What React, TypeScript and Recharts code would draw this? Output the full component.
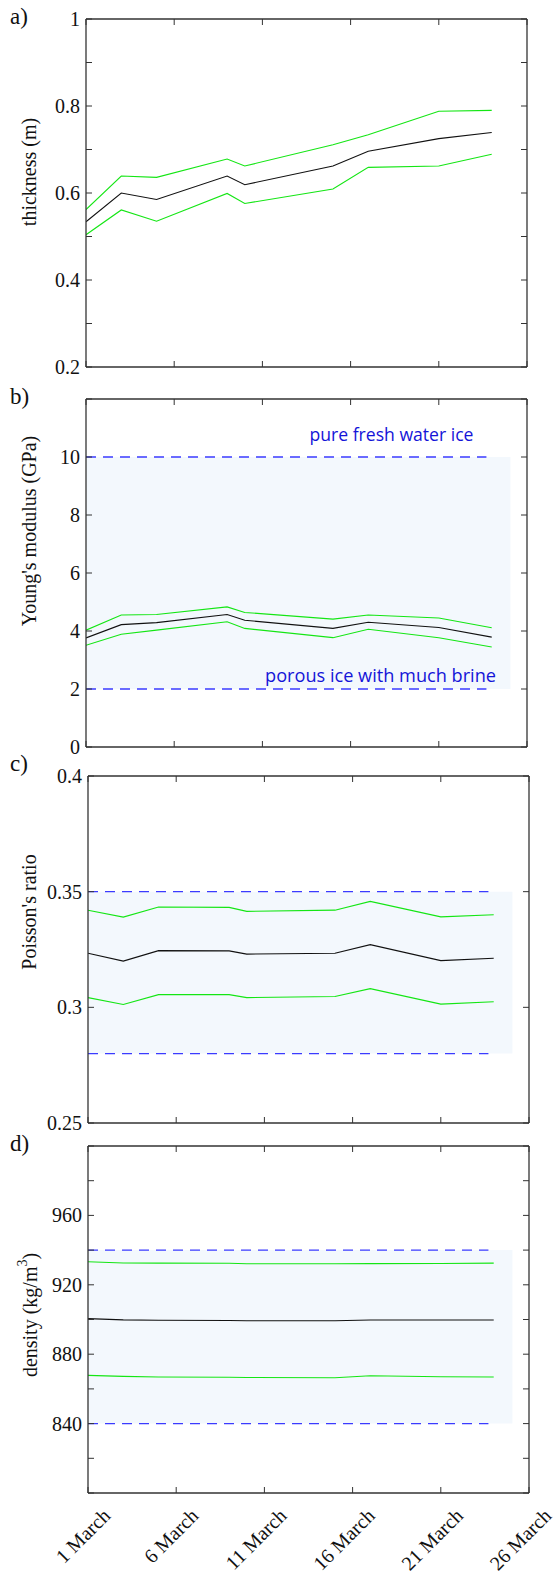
import React from 'react';
import { LineChart, Line, XAxis, YAxis, ReferenceArea, ReferenceLine, ReferenceDot } from 'recharts';

// ---------- shared x data ----------
const days = [1, 3, 5, 9, 10, 15, 17, 21, 24];
const xTicks = [1, 6, 11, 16, 21, 26];
const xTickLabels = ['1 March', '6 March', '11 March', '16 March', '21 March', '26 March'];

// ---------- a) thickness (m) ----------
const thicknessMean = [0.534, 0.6, 0.585, 0.639, 0.619, 0.662, 0.696, 0.725, 0.739];
const thicknessUpper = [0.562, 0.639, 0.636, 0.678, 0.662, 0.711, 0.734, 0.788, 0.79];
const thicknessLower = [0.504, 0.561, 0.535, 0.599, 0.576, 0.609, 0.659, 0.662, 0.689];
const thicknessTicks = [0.2, 0.3, 0.4, 0.5, 0.6, 0.7, 0.8, 0.9, 1];
const thicknessTickLabels = ['0.2', '', '0.4', '', '0.6', '', '0.8', '', '1'];

// ---------- b) Young's modulus (GPa) ----------
const youngMean = [3.76, 4.22, 4.29, 4.57, 4.37, 4.09, 4.3, 4.12, 3.79];
const youngUpper = [4.03, 4.55, 4.57, 4.83, 4.64, 4.41, 4.55, 4.45, 4.11];
const youngLower = [3.51, 3.89, 4.03, 4.32, 4.09, 3.77, 4.06, 3.77, 3.45];
const youngTicks = [0, 2, 4, 6, 8, 10, 12];
const youngTickLabels = ['0', '2', '4', '6', '8', '10', ''];
const youngBand = [2, 10];
const youngNotes = ['pure fresh water ice', 'porous ice with much brine'];
const youngNoteX = [13.67, 11.15];
const youngNoteY = [10.55, 2.25];
const youngNoteLen = [164, 231];

// ---------- c) Poisson's ratio ----------
const poissonMean = [0.3234, 0.32, 0.3245, 0.3244, 0.323, 0.3234, 0.3271, 0.3202, 0.3212];
const poissonUpper = [0.342, 0.339, 0.3434, 0.3432, 0.3415, 0.342, 0.3458, 0.3391, 0.34];
const poissonLower = [0.3042, 0.3012, 0.3055, 0.3055, 0.3042, 0.3047, 0.3081, 0.3014, 0.3024];
const poissonTicks = [0.25, 0.3, 0.35, 0.4];
const poissonTickLabels = ['0.25', '0.3', '0.35', '0.4'];
const poissonBand = [0.28, 0.35];

// ---------- d) density (kg/m3) ----------
const densityMean = [900.5, 899.8, 899.6, 899.4, 899.3, 899.3, 899.7, 899.7, 899.7];
const densityUpper = [933.3, 932.6, 932.5, 932.4, 932.1, 932.1, 932.2, 932.3, 932.5];
const densityLower = [867.8, 867.2, 866.9, 866.7, 866.6, 866.4, 867.6, 867.0, 866.9];
const densityTicks = [800, 820, 840, 860, 880, 900, 920, 940, 960, 980, 1000];
const densityTickLabels = ['', '', '840', '', '880', '', '920', '', '960', '', ''];
const densityBand = [840, 940];

// band / dashed line horizontal extents (days)
const bandEndDay = 25.06;
const dashEndDay = 23.7;

const build = (mean: number[], upper: number[], lower: number[]) =>
  days.map((d, i) => ({ day: d, mean: mean[i], upper: upper[i], lower: lower[i] }));

const FONT = "'Liberation Serif', 'Times New Roman', Times, serif";
const SANS = "'Open Sans', 'Noto Sans', sans-serif";
const FRAME = '#333333';
const GREEN = '#14e614';
const BLACK = '#111111';
const DASH = '#3b3bff';
const FILL = '#f3f8fd';
const NOTE = '#1414d8';

const TICK = 6;

const makeLeftTick = (labels: string[]) => (props: any) => {
  const { x, y, index } = props;
  return (
    <g>
      <line x1={x} x2={x + TICK} y1={y} y2={y} stroke={FRAME} strokeWidth={1} />
      {labels[index] ? (
        <text
          x={x - 6}
          y={y}
          textAnchor="end"
          dominantBaseline="central"
          style={{ fontFamily: FONT, fontSize: 20 }}
          fill="#111"
        >
          {labels[index]}
        </text>
      ) : null}
    </g>
  );
};

const rightTick = (props: any) => {
  const { x, y } = props;
  return <line x1={x - TICK} x2={x} y1={y} y2={y} stroke={FRAME} strokeWidth={1} />;
};

const topTick = (props: any) => {
  const { x, y } = props;
  return <line x1={x} x2={x} y1={y} y2={y + TICK} stroke={FRAME} strokeWidth={1} />;
};

const makeBottomTick = (showLabels: boolean) => (props: any) => {
  const { x, y, index } = props;
  const px = x + 23.5;
  const py = y + 24;
  return (
    <g>
      <line x1={x} x2={x} y1={y - TICK} y2={y} stroke={FRAME} strokeWidth={1} />
      {showLabels ? (
        <text
          x={px}
          y={py}
          textAnchor="end"
          transform={`rotate(-45 ${px} ${py})`}
          style={{ fontFamily: FONT, fontSize: 20 }}
          fill="#111"
        >
          {xTickLabels[index]}
        </text>
      ) : null}
    </g>
  );
};

type PanelProps = {
  top: number;
  height: number;
  plotTop: number;
  plotBottom: number;
  plotLeft: number;
  plotRight: number;
  data: any[];
  yTicks: number[];
  yTickLabels: string[];
  showXLabels?: boolean;
  extras?: React.ReactNode[];
};

const W = 554;
const XH = 1; // x-axis band height

function Panel(p: PanelProps) {
  const domain: [number, number] = [p.yTicks[0], p.yTicks[p.yTicks.length - 1]];
  const axisLine = { stroke: FRAME, strokeWidth: 1.3 };
  return (
    <div style={{ position: 'absolute', left: 0, top: p.top, width: W, height: p.height }}>
      <LineChart
        width={W}
        height={p.height}
        data={p.data}
        margin={{
          top: p.plotTop - p.top - XH,
          bottom: p.top + p.height - p.plotBottom - XH,
          left: 0,
          right: 0,
        }}
      >
        <XAxis
          dataKey="day"
          type="number"
          domain={[1, 26]}
          ticks={xTicks}
          interval={0}
          allowDataOverflow
          height={XH}
          tickSize={0}
          tickMargin={0}
          tickLine={false}
          axisLine={axisLine}
          tick={makeBottomTick(!!p.showXLabels)}
        />
        <XAxis
          xAxisId="top"
          orientation="top"
          dataKey="day"
          type="number"
          domain={[1, 26]}
          ticks={xTicks}
          interval={0}
          allowDataOverflow
          height={XH}
          tickSize={0}
          tickMargin={0}
          tickLine={false}
          axisLine={axisLine}
          tick={topTick}
        />
        <YAxis
          type="number"
          domain={domain}
          ticks={p.yTicks}
          interval={0}
          allowDataOverflow
          width={p.plotLeft}
          tickSize={0}
          tickMargin={0}
          tickLine={false}
          axisLine={axisLine}
          tick={makeLeftTick(p.yTickLabels)}
        />
        <YAxis
          yAxisId="right"
          orientation="right"
          type="number"
          domain={domain}
          ticks={p.yTicks}
          interval={0}
          allowDataOverflow
          width={W - p.plotRight}
          tickSize={0}
          tickMargin={0}
          tickLine={false}
          axisLine={axisLine}
          tick={rightTick}
        />
        {p.extras}
        <Line type="linear" dataKey="upper" stroke={GREEN} strokeWidth={1.1} dot={false} isAnimationActive={false} />
        <Line type="linear" dataKey="lower" stroke={GREEN} strokeWidth={1.1} dot={false} isAnimationActive={false} />
        <Line type="linear" dataKey="mean" stroke={BLACK} strokeWidth={1.1} dot={false} isAnimationActive={false} />
      </LineChart>
    </div>
  );
}

const bandExtras = (band: number[], keyPrefix: string) => [
  <ReferenceArea
    key={keyPrefix + 'area'}
    x1={1}
    x2={bandEndDay}
    y1={band[0]}
    y2={band[1]}
    fill={FILL}
    fillOpacity={1}
    stroke="none"
    ifOverflow="visible"
  />,
  <ReferenceLine
    key={keyPrefix + 'hi'}
    segment={[{ x: 1, y: band[1] }, { x: dashEndDay, y: band[1] }]}
    stroke={DASH}
    strokeWidth={1.4}
    strokeDasharray="10 7"
    ifOverflow="visible"
  />,
  <ReferenceLine
    key={keyPrefix + 'lo'}
    segment={[{ x: 1, y: band[0] }, { x: dashEndDay, y: band[0] }]}
    stroke={DASH}
    strokeWidth={1.4}
    strokeDasharray="10 7"
    ifOverflow="visible"
  />,
];

const noteExtras = youngNotes.map((t, i) => (
  <ReferenceDot
    key={'note' + i}
    x={youngNoteX[i]}
    y={youngNoteY[i]}
    r={0}
    ifOverflow="visible"
    shape={(sp: any) => (
      <text
        x={sp.cx}
        y={sp.cy}
        textAnchor="start"
        style={{ fontFamily: SANS, fontSize: 19 }}
        fill={NOTE}
        textLength={youngNoteLen[i]}
        lengthAdjust="spacingAndGlyphs"
      >
        {t}
      </text>
    )}
  />
));

export default function App() {
  const thicknessData = build(thicknessMean, thicknessUpper, thicknessLower);
  const youngData = build(youngMean, youngUpper, youngLower);
  const poissonData = build(poissonMean, poissonUpper, poissonLower);
  const densityData = build(densityMean, densityUpper, densityLower);

  const titleStyle = { fontFamily: FONT, fontSize: 20, fill: '#111' } as const;

  return (
    <div style={{ position: 'absolute', left: 0, top: 0, width: W, height: 1573, background: '#fff', overflow: 'hidden' }}>
      <Panel
        top={0}
        height={383}
        plotTop={19}
        plotBottom={367}
        plotLeft={86}
        plotRight={527}
        data={thicknessData}
        yTicks={thicknessTicks}
        yTickLabels={thicknessTickLabels}
      />
      <Panel
        top={383}
        height={377}
        plotTop={399}
        plotBottom={747}
        plotLeft={86}
        plotRight={527}
        data={youngData}
        yTicks={youngTicks}
        yTickLabels={youngTickLabels}
        extras={[...bandExtras(youngBand, 'b'), ...noteExtras]}
      />
      <Panel
        top={760}
        height={375}
        plotTop={776}
        plotBottom={1123}
        plotLeft={88}
        plotRight={529}
        data={poissonData}
        yTicks={poissonTicks}
        yTickLabels={poissonTickLabels}
        extras={bandExtras(poissonBand, 'c')}
      />
      <Panel
        top={1135}
        height={438}
        plotTop={1146}
        plotBottom={1493}
        plotLeft={88}
        plotRight={529}
        data={densityData}
        yTicks={densityTicks}
        yTickLabels={densityTickLabels}
        showXLabels
        extras={bandExtras(densityBand, 'd')}
      />
      <svg width={W} height={1573} style={{ position: 'absolute', left: 0, top: 0, pointerEvents: 'none' }}>
        <text x={10} y={24} style={{ fontFamily: FONT, fontSize: 23 }} fill="#111">a)</text>
        <text x={10} y={404} style={{ fontFamily: FONT, fontSize: 23 }} fill="#111">b)</text>
        <text x={10} y={771} style={{ fontFamily: FONT, fontSize: 23 }} fill="#111">c)</text>
        <text x={10} y={1151} style={{ fontFamily: FONT, fontSize: 23 }} fill="#111">d)</text>

        <text x={29} y={172} transform="rotate(-90 29 172)" textAnchor="middle" dominantBaseline="central" style={titleStyle}>
          thickness (m)
        </text>
        <text x={29} y={531} transform="rotate(-90 29 531)" textAnchor="middle" dominantBaseline="central" style={titleStyle}>
          Young's modulus (GPa)
        </text>
        <text x={29} y={912} transform="rotate(-90 29 912)" textAnchor="middle" dominantBaseline="central" style={titleStyle}>
          Poisson's ratio
        </text>
        <text x={30} y={1315} transform="rotate(-90 30 1315)" textAnchor="middle" dominantBaseline="central" style={titleStyle}>
          density (kg/m<tspan dy={-8} fontSize={14}>3</tspan><tspan dy={8}>)</tspan>
        </text>
      </svg>
    </div>
  );
}
